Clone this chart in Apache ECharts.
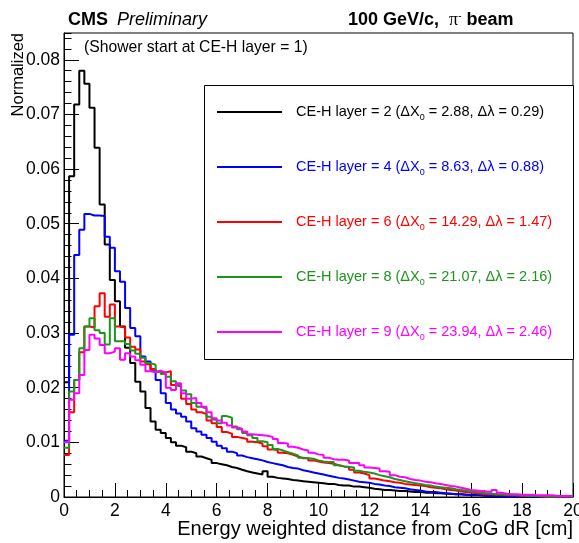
<!DOCTYPE html>
<html>
<head>
<meta charset="utf-8">
<script src="https://cdn.jsdelivr.net/npm/echarts@6/dist/echarts.min.js"></script>
<style>
  html, body { margin: 0; padding: 0; background: #ffffff; }
  #chart { width: 579px; height: 543px; }
</style>
</head>
<body>
<div id="chart"></div>
<script>
// Histogram binning: 100 bins of 0.2 cm between 0 and 20 cm
const xRange = [0, 20];
const binWidth = 0.2;
const yMax = 0.0849;

// Legend labels
const layerNames = ['CE-H layer = 2', 'CE-H layer = 4', 'CE-H layer = 6', 'CE-H layer = 8', 'CE-H layer = 9'];
const deltaX0 = ['2.88', '8.63', '14.29', '21.07', '23.94'];
const deltaLambda = ['0.29', '0.88', '1.47', '2.16', '2.46'];

// Normalized bin contents, one value per bin
const layer2 = [
  0.0210, 0.0587, 0.0718, 0.0780, 0.0756, 0.0712, 0.0639, 0.0535, 0.0462, 0.0397,
  0.0358, 0.0312, 0.0273, 0.0245, 0.0211, 0.0193, 0.0163, 0.0138, 0.0123, 0.0117,
  0.0108, 0.0100, 0.0094, 0.0091, 0.0083, 0.0080, 0.0074, 0.0071, 0.0068, 0.0062,
  0.0060, 0.0058, 0.0055, 0.0053, 0.0050, 0.0047, 0.0045, 0.0043, 0.0041, 0.0047,
  0.0037, 0.0035, 0.0034, 0.0033, 0.0031, 0.0030, 0.0029, 0.0028, 0.0027, 0.0026,
  0.0025, 0.0024, 0.0024, 0.0022, 0.0021, 0.0021, 0.0019, 0.0019, 0.0018, 0.0017,
  0.0015, 0.0014, 0.0013, 0.0013, 0.0012, 0.0011, 0.0011, 0.0010, 0.0009, 0.0009,
  0.0008, 0.0008, 0.0007, 0.0007, 0.0006, 0.0006, 0.0005, 0.0005, 0.0004, 0.0004,
  0.0004, 0.0003, 0.0003, 0.0003, 0.0002, 0.0002, 0.0002, 0.0002, 0.0002, 0.0001,
  0.0001, 0.0001, 0.0001, 0.0001, 0.0001, 0.0001, 0.0001, 0.0001, 0.0001, 0.0001
];
const layer4 = [
  0.0103, 0.0297, 0.0443, 0.0489, 0.0518, 0.0515, 0.0515, 0.0514, 0.0476, 0.0456,
  0.0413, 0.0394, 0.0346, 0.0309, 0.0294, 0.0257, 0.0248, 0.0233, 0.0214, 0.0190,
  0.0172, 0.0160, 0.0153, 0.0147, 0.0138, 0.0126, 0.0120, 0.0114, 0.0108, 0.0101,
  0.0094, 0.0089, 0.0083, 0.0080, 0.0076, 0.0073, 0.0071, 0.0069, 0.0067, 0.0064,
  0.0062, 0.0060, 0.0058, 0.0055, 0.0053, 0.0052, 0.0049, 0.0047, 0.0045, 0.0043,
  0.0041, 0.0039, 0.0037, 0.0035, 0.0034, 0.0032, 0.0030, 0.0028, 0.0027, 0.0026,
  0.0024, 0.0023, 0.0021, 0.0020, 0.0018, 0.0017, 0.0016, 0.0014, 0.0013, 0.0012,
  0.0010, 0.0009, 0.0009, 0.0008, 0.0007, 0.0006, 0.0005, 0.0005, 0.0004, 0.0003,
  0.0003, 0.0003, 0.0002, 0.0002, 0.0002, 0.0001, 0.0001, 0.0001, 0.0001, 0.0001,
  0.0001, 0.0001, 0.00005, 0.00005, 0.00005, 0.00005, 0.00005, 0.00005, 0.00005, 0.00005
];
const layer6 = [
  0.0077, 0.0155, 0.0214, 0.0265, 0.0312, 0.0310, 0.0349, 0.0373, 0.0330, 0.0352,
  0.0312, 0.0310, 0.0292, 0.0275, 0.0270, 0.0248, 0.0243, 0.0234, 0.0229, 0.0228,
  0.0230, 0.0205, 0.0202, 0.0180, 0.0170, 0.0160, 0.0155, 0.0152, 0.0140, 0.0135,
  0.0128, 0.0119, 0.0116, 0.0110, 0.0108, 0.0106, 0.0101, 0.0100, 0.0098, 0.0093,
  0.0087, 0.0086, 0.0081, 0.0080, 0.0077, 0.0074, 0.0071, 0.0071, 0.0067, 0.0065,
  0.0063, 0.0062, 0.0061, 0.0058, 0.0056, 0.0055, 0.0050, 0.0045, 0.0043, 0.0040,
  0.0034, 0.0032, 0.0030, 0.0029, 0.0027, 0.0026, 0.0024, 0.0023, 0.0022, 0.0021,
  0.0020, 0.0018, 0.0017, 0.0016, 0.0014, 0.0013, 0.0012, 0.0010, 0.0009, 0.0008,
  0.0007, 0.0006, 0.0005, 0.0005, 0.0004, 0.0004, 0.0003, 0.0003, 0.0003, 0.0002,
  0.0002, 0.0002, 0.0002, 0.0001, 0.0001, 0.0001, 0.0001, 0.0001, 0.0001, 0.0001
];
const layer8 = [
  0.0090, 0.0193, 0.0214, 0.0272, 0.0312, 0.0327, 0.0305, 0.0300, 0.0279, 0.0327,
  0.0285, 0.0285, 0.0280, 0.0268, 0.0262, 0.0255, 0.0245, 0.0242, 0.0230, 0.0225,
  0.0220, 0.0212, 0.0205, 0.0195, 0.0188, 0.0172, 0.0165, 0.0162, 0.0147, 0.0142,
  0.0135, 0.0148, 0.0145, 0.0129, 0.0124, 0.0117, 0.0113, 0.0108, 0.0102, 0.0100,
  0.0095, 0.0088, 0.0085, 0.0082, 0.0079, 0.0076, 0.0072, 0.0071, 0.0070, 0.0067,
  0.0065, 0.0064, 0.0064, 0.0058, 0.0056, 0.0055, 0.0054, 0.0048, 0.0046, 0.0045,
  0.0043, 0.0040, 0.0038, 0.0036, 0.0033, 0.0031, 0.0029, 0.0027, 0.0025, 0.0024,
  0.0022, 0.0021, 0.0019, 0.0018, 0.0017, 0.0016, 0.0014, 0.0013, 0.0012, 0.0010,
  0.0009, 0.0008, 0.0007, 0.0006, 0.0005, 0.0005, 0.0004, 0.0004, 0.0003, 0.0003,
  0.0002, 0.0002, 0.0002, 0.0002, 0.0001, 0.0001, 0.0001, 0.0001, 0.0001, 0.0001
];
const layer9 = [
  0.0100, 0.0178, 0.0190, 0.0223, 0.0269, 0.0297, 0.0290, 0.0278, 0.0263, 0.0266,
  0.0272, 0.0251, 0.0263, 0.0257, 0.0250, 0.0242, 0.0230, 0.0228, 0.0231, 0.0228,
  0.0200, 0.0196, 0.0208, 0.0190, 0.0180, 0.0181, 0.0172, 0.0165, 0.0155, 0.0144,
  0.0140, 0.0136, 0.0131, 0.0127, 0.0125, 0.0120, 0.0115, 0.0114, 0.0113, 0.0112,
  0.0110, 0.0106, 0.0099, 0.0098, 0.0092, 0.0090, 0.0087, 0.0085, 0.0081, 0.0078,
  0.0077, 0.0072, 0.0069, 0.0068, 0.0068, 0.0067, 0.0062, 0.0062, 0.0058, 0.0054,
  0.0053, 0.0052, 0.0047, 0.0046, 0.0040, 0.0037, 0.0036, 0.0033, 0.0031, 0.0030,
  0.0028, 0.0027, 0.0025, 0.0024, 0.0022, 0.0020, 0.0019, 0.0017, 0.0015, 0.0013,
  0.0012, 0.0011, 0.0010, 0.0009, 0.0013, 0.0008, 0.0006, 0.0005, 0.0005, 0.0004,
  0.0004, 0.0004, 0.0003, 0.0003, 0.0003, 0.0003, 0.0002, 0.0002, 0.0002, 0.0002
];

const histograms = [layer2, layer4, layer6, layer8, layer9];
const lineColors = ['#000000', '#0000ff', '#ff0000', '#1b951b', '#ff00ff'];

const FONT = '"Liberation Sans", Arial, Helvetica, sans-serif';

// Step outline: one point at each lower bin edge, plus the closing upper edge
function stepPoints(values) {
  const pts = values.map((v, i) => [xRange[0] + i * binWidth, v]);
  pts.push([xRange[1], values[values.length - 1]]);
  return pts;
}

const chart = echarts.init(document.getElementById('chart'), null, { renderer: 'canvas' });

const series = histograms.map((vals, k) => ({
  name: layerNames[k],
  type: 'line',
  step: 'end',
  showSymbol: false,
  symbol: 'none',
  clip: true,
  color: lineColors[k],
  lineStyle: { color: lineColors[k], width: 2 },
  data: stepPoints(vals),
  z: 2 + k
}));

const legendRich = {
  sub: { fontSize: 9, fontFamily: FONT, lineHeight: 10, verticalAlign: 'bottom' }
};

chart.setOption({
  animation: false,
  backgroundColor: '#ffffff',
  textStyle: { fontFamily: FONT },
  grid: {
    left: 64, right: 6, top: 33, bottom: 46,
    outerBoundsMode: 'none', containLabel: false,
    show: true, borderColor: '#000000', borderWidth: 1, backgroundColor: 'transparent'
  },
  xAxis: {
    type: 'value', min: xRange[0], max: xRange[1], interval: 2,
    axisLine: { lineStyle: { color: '#000000', width: 1 } },
    axisTick: { inside: true, length: 14, lineStyle: { color: '#000000', width: 1 } },
    minorTick: { show: true, splitNumber: 4, length: 7, lineStyle: { color: '#000000', width: 1 } },
    splitLine: { show: false },
    axisLabel: { fontSize: 17.5, color: '#000000', margin: 5, fontFamily: FONT, hideOverlap: false }
  },
  yAxis: [
    {
      type: 'value', min: 0, max: yMax, interval: 0.01,
      axisLine: { lineStyle: { color: '#000000', width: 1 } },
      axisTick: { inside: true, length: 15, lineStyle: { color: '#000000', width: 1 } },
      splitLine: { show: false },
      axisLabel: {
        fontSize: 17.5, color: '#000000', margin: 4, fontFamily: FONT, showMaxLabel: false,
        formatter: v => (Math.abs(v) < 1e-9 ? '0' : v.toFixed(2))
      }
    },
    {
      type: 'value', min: 0, max: yMax, interval: 0.002, position: 'left', offset: 0,
      axisLine: { show: false },
      axisTick: { inside: true, length: 7.5, lineStyle: { color: '#000000', width: 1 } },
      axisLabel: { show: false },
      splitLine: { show: false }
    }
  ],
  legend: {
    orient: 'vertical', left: 217, top: 102, padding: 0,
    itemWidth: 65, itemHeight: 2, icon: 'rect', itemGap: 35,
    selectedMode: false,
    data: layerNames.map((n, k) => ({ name: n, textStyle: { color: lineColors[k] } })),
    formatter: name => {
      const k = layerNames.indexOf(name);
      return name + ' (\u0394X{sub|0} = ' + deltaX0[k] + ', \u0394\u03bb = ' + deltaLambda[k] + ')';
    },
    textStyle: { fontSize: 14.5, fontFamily: FONT, lineHeight: 20, padding: [0, 0, 0, 9], rich: legendRich }
  },
  graphic: [
    {
      type: 'rect', z: 1,
      shape: { x: 204.5, y: 85.5, width: 369, height: 274 },
      style: { fill: '#ffffff', stroke: '#000000', lineWidth: 1 }
    },
    {
      type: 'text', x: 68, y: 20,
      style: { text: 'CMS', fontSize: 18, fontWeight: 'bold', fontFamily: FONT, fill: '#000', verticalAlign: 'middle', align: 'left' }
    },
    {
      type: 'text', x: 117, y: 20,
      style: { text: 'Preliminary', fontSize: 18, fontStyle: 'italic', fontFamily: FONT, fill: '#000', verticalAlign: 'middle', align: 'left' }
    },
    {
      type: 'text', x: 348, y: 20,
      style: {
        text: '{b|100 GeV/c,  }{p|\u03c0}{s|-}{b| beam}',
        verticalAlign: 'middle', align: 'left',
        rich: {
          b: { fontSize: 18, fontWeight: 'bold', fontFamily: FONT, fill: '#000' },
          p: { fontSize: 18, fontFamily: '"Liberation Serif", serif', fill: '#000' },
          s: { fontSize: 10, fontFamily: FONT, fill: '#000', verticalAlign: 'top', lineHeight: 12 }
        }
      }
    },
    {
      type: 'text', x: 84, y: 48,
      style: { text: '(Shower start at CE-H layer = 1)', fontSize: 15.7, fontFamily: FONT, fill: '#000', verticalAlign: 'middle', align: 'left' }
    },
    {
      type: 'text', x: 18.5, y: 33, rotation: Math.PI / 2,
      style: { text: 'Normalized', fontSize: 16.5, fontFamily: FONT, fill: '#000', verticalAlign: 'middle', align: 'right' }
    },
    {
      type: 'text', x: 573, y: 529,
      style: { text: 'Energy weighted distance from CoG dR [cm]', fontSize: 20, fontFamily: FONT, fill: '#000', verticalAlign: 'middle', align: 'right' }
    }
  ],
  series: series
});
</script>
</body>
</html>
